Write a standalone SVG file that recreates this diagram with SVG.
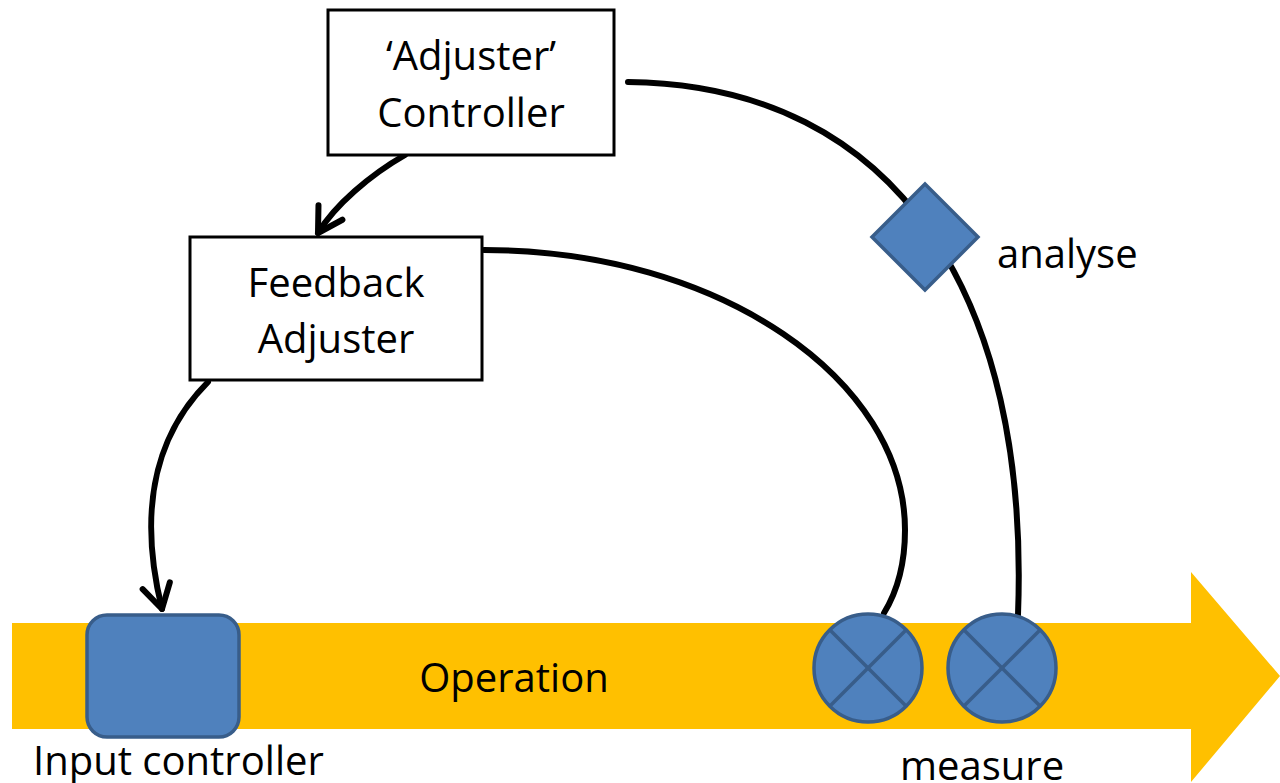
<svg xmlns="http://www.w3.org/2000/svg" width="1280" height="783" viewBox="0 0 1280 783">
<defs>
<marker id="arr" markerUnits="userSpaceOnUse" markerWidth="44" markerHeight="44" viewBox="-32 -22 44 44" refX="0" refY="0" orient="auto">
<path d="M-24,-14 L0,0 L-24,14" fill="none" stroke="#000" stroke-width="6" stroke-linecap="round" stroke-linejoin="round"/>
</marker>
</defs>
<style>
.box{fill:#fff;stroke:#000;stroke-width:3}
.blue{fill:#4F81BD;stroke:#385D8A;stroke-width:3.5}
.xl{stroke:#385D8A;stroke-width:3.5}
.con{fill:none;stroke:#000;stroke-width:6;stroke-linecap:round}
text{font-family:"Open Sans","Liberation Sans",sans-serif;font-size:40px;fill:#000}
</style>
<rect width="1280" height="783" fill="#fff"/>
<g id="operation">
<polygon points="12,623 1191,623 1191,572 1280,676 1191,782 1191,729 12,729" fill="#FFC000"/>
<text x="514" y="692" text-anchor="middle">Operation</text>
</g>
<g id="connectors">
<path class="con" d="M628,82 C900,85 1030,300 1018,615"/>
<path class="con" d="M484,250 C720,250 905,380 905,530 C905,570 895,595 884,613"/>
<path class="con" d="M405,155 C370,175 335,205 318,233" marker-end="url(#arr)"/>
<path class="con" d="M208,382 C150,440 140,520 162,609" marker-end="url(#arr)"/>
</g>
<g id="adjuster-controller">
<rect class="box" x="328" y="10" width="286" height="145"/>
<text x="471" y="70" text-anchor="middle">‘Adjuster’</text>
<text x="471" y="127" text-anchor="middle">Controller</text>
</g>
<g id="feedback-adjuster">
<rect class="box" x="190" y="237" width="292" height="143"/>
<text x="336" y="297" text-anchor="middle">Feedback</text>
<text x="336" y="353" text-anchor="middle">Adjuster</text>
</g>
<g id="analyse">
<polygon class="blue" points="925,184 978,237 925,290 872,237"/>
<text x="997" y="268">analyse</text>
</g>
<g id="input-controller">
<rect class="blue" x="87" y="615" width="152" height="122" rx="20"/>
<text x="33" y="775">Input controller</text>
</g>
<g id="measure">
<circle class="blue" cx="868" cy="668" r="54"/>
<line class="xl" x1="830" y1="630" x2="906" y2="706"/>
<line class="xl" x1="906" y1="630" x2="830" y2="706"/>
<circle class="blue" cx="1002" cy="668" r="54"/>
<line class="xl" x1="964" y1="630" x2="1040" y2="706"/>
<line class="xl" x1="1040" y1="630" x2="964" y2="706"/>
<text x="900" y="780">measure</text>
</g>
</svg>
